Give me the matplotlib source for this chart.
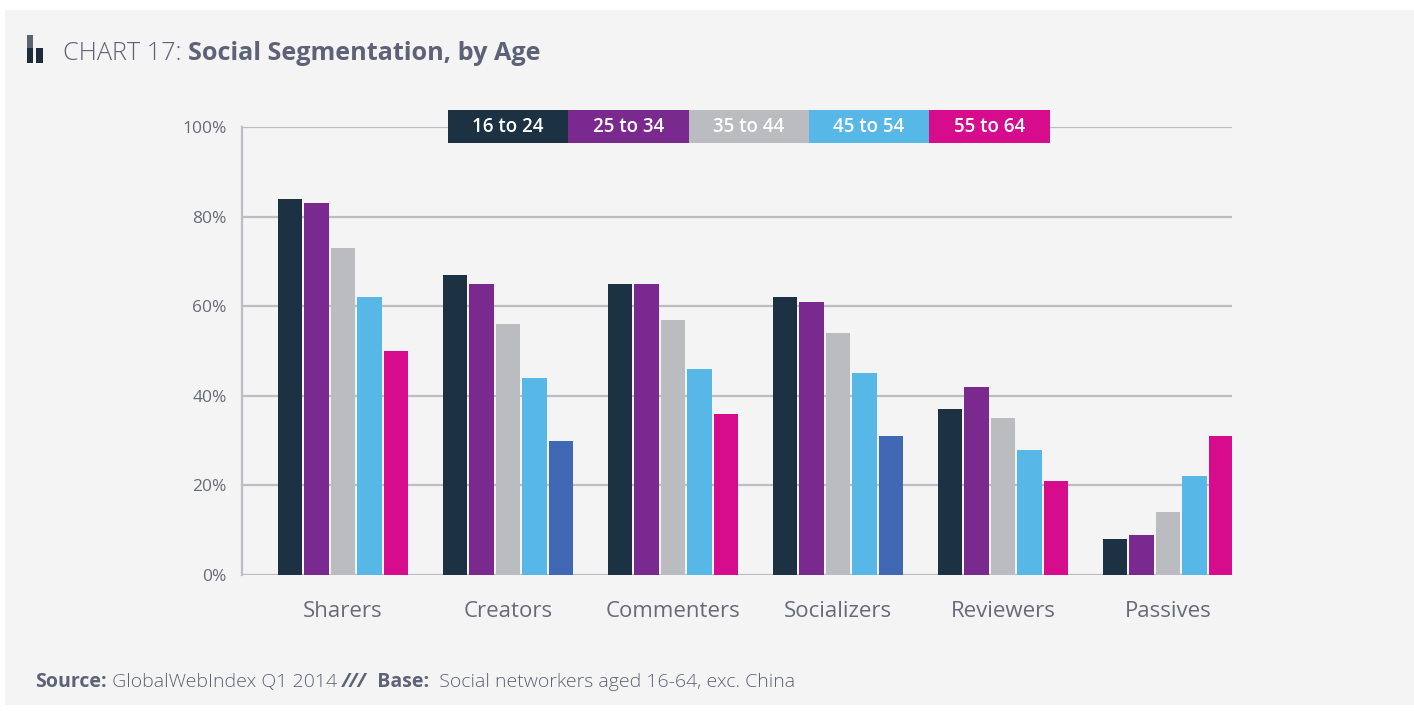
import matplotlib
matplotlib.use("Agg")
import matplotlib.pyplot as plt
from matplotlib.patches import Rectangle
import numpy as np

categories = ["Sharers", "Creators", "Commenters", "Socializers", "Reviewers", "Passives"]
age_groups = ["16 to 24", "25 to 34", "35 to 44", "45 to 54", "55 to 64"]
values = {
    "16 to 24": [84, 67, 65, 62, 37, 8],
    "25 to 34": [83, 65, 65, 61, 42, 9],
    "35 to 44": [73, 56, 57, 54, 35, 14],
    "45 to 54": [62, 44, 46, 45, 28, 22],
    "55 to 64": [50, 30, 36, 31, 21, 31],
}
y_ticks = [0, 20, 40, 60, 80, 100]

colors = ["#1C3243", "#7A2A8E", "#BBBCBF", "#57B7E7", "#D60C8C"]
alt_blue = "#4068B4"
bg = "#F4F4F4"
text_col = "#666B78"
title_col = "#5D6277"
grid_col = "#BDBCC2"

W, H = 1414, 711
fig = plt.figure(figsize=(W / 100, H / 100), dpi=100)
fig.patch.set_facecolor("white")

# grey panel behind everything
fig.patches.append(Rectangle((5 / W, 1 - 705 / H), 1 - 5 / W, (705 - 10) / H,
                             transform=fig.transFigure, facecolor=bg,
                             edgecolor="none", zorder=-10))

font = "Open Sans"

# plot area
ax_l, ax_r = 242, 1232
ax_t, ax_b = 127, 575
ax = fig.add_axes([ax_l / W, 1 - ax_b / H, (ax_r - ax_l) / W, (ax_b - ax_t) / H])
ax.set_zorder(1)
ax.set_facecolor(bg)

x = np.arange(len(categories))
bw = 0.147
step = 0.161
for i, grp in enumerate(age_groups):
    offs = (i - 2) * step
    bar_colors = [colors[i]] * len(categories)
    if grp == "55 to 64":
        bar_colors[1] = alt_blue
        bar_colors[3] = alt_blue
    ax.bar(x + offs, values[grp], width=bw, color=bar_colors, zorder=3)

ax.set_xlim(-0.612, len(categories) - 0.612)
ax.set_ylim(0, 100)
ax.set_yticks(y_ticks)
ax.set_yticklabels([f"{t}%" for t in y_ticks], fontsize=12.5, color=text_col,
                   fontfamily=font)
ax.set_xticks(x)
ax.set_xticklabels(categories, fontsize=16, color=text_col, fontfamily=font)
ax.tick_params(axis="both", length=0)
ax.tick_params(axis="x", pad=19)
ax.tick_params(axis="y", pad=11)
for t in y_ticks:
    ax.axhline(t, color=grid_col, lw=1.6, zorder=1)
for s in ["top", "right", "bottom"]:
    ax.spines[s].set_visible(False)
ax.spines["left"].set_color(grid_col)
ax.spines["left"].set_linewidth(1.6)

# legend strip
lx0, lw_, ly0, lh = 448, 120.3, 110, 33
for i, grp in enumerate(age_groups):
    fig.patches.append(Rectangle(((lx0 + i * lw_) / W, 1 - (ly0 + lh) / H),
                                 lw_ / W, lh / H, transform=fig.transFigure,
                                 facecolor=colors[i], edgecolor="none", zorder=5))
    fig.text((lx0 + (i + 0.5) * lw_) / W, 1 - (ly0 + lh / 2 + 1) / H, grp,
             color="white", fontsize=13.5, fontweight="semibold", fontfamily=font,
             ha="center", va="center", zorder=6)

# title icon
for (x0, y0, w, h, c) in [(27, 35, 6, 13, "#5B6470"), (27, 48, 6, 15, "#1E2D3D"),
                          (36, 48, 7, 15, "#1E2D3D")]:
    fig.patches.append(Rectangle((x0 / W, 1 - (y0 + h) / H), w / W, h / H,
                                 transform=fig.transFigure, facecolor=c,
                                 edgecolor="none", zorder=5))

t1 = fig.text(63 / W, 1 - 53 / H, "CHART 17: ", fontsize=18.2, color=title_col,
              fontfamily=font, fontweight="light", va="center", ha="left")
fig.canvas.draw()
bb = t1.get_window_extent()
fig.text(bb.x1 / W, 1 - 53 / H, "Social Segmentation, by Age", fontsize=18.2,
         color=title_col, fontfamily=font, fontweight="bold", va="center", ha="left")

# footer
parts = [("Source:", "bold"), (" GlobalWebIndex Q1 2014 ", "light"), ("///", "bold"),
         ("  Base:", "bold"), ("  Social networkers aged 16-64, exc. China", "light")]
xpos = 35
renderer = fig.canvas.get_renderer()
for txt, wt in parts:
    t = fig.text(xpos / W, 1 - 682 / H, txt, fontsize=14, color=title_col,
                 fontfamily=font, fontweight=wt, va="center", ha="left",
                 style="italic" if txt == "///" else "normal")
    xpos = t.get_window_extent(renderer).x1

fig.savefig("out.png", dpi=100, facecolor=fig.get_facecolor())
